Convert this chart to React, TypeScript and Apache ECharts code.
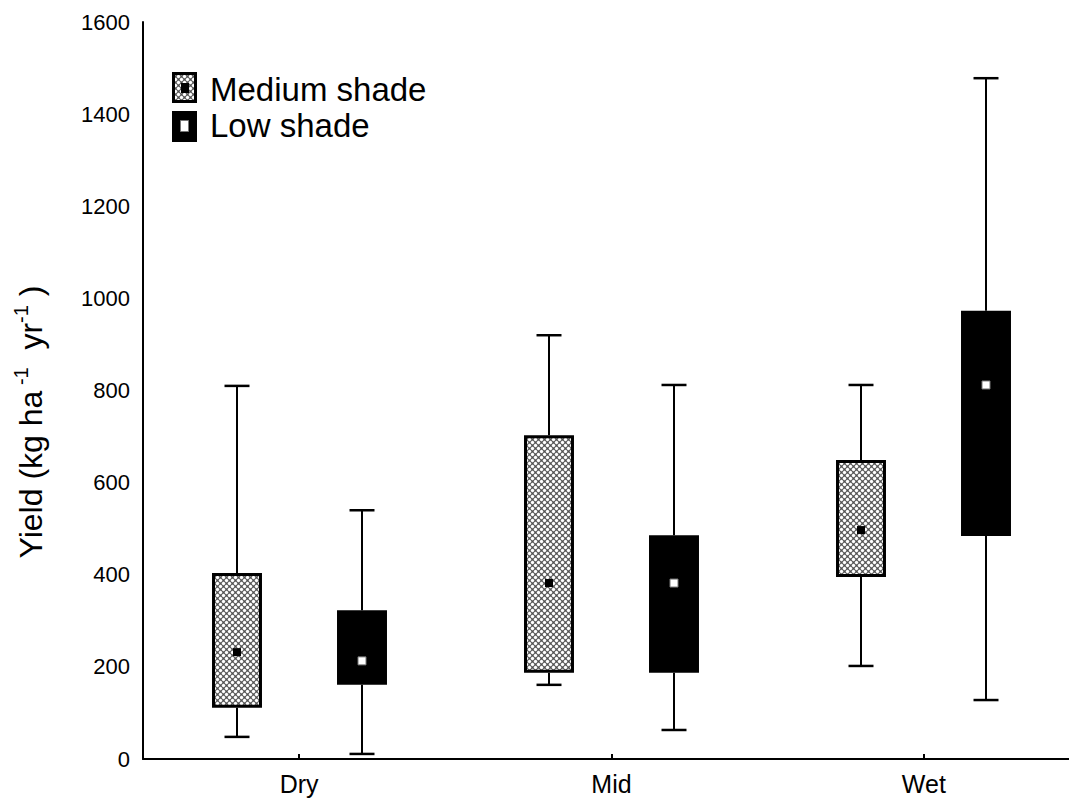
import React, { useEffect, useRef } from "react";
import * as echarts from "echarts";

const categories = ["Dry", "Mid", "Wet"];
// [min, Q1, median, Q3, max]
const mediumShade = [
  [48, 111, 232, 404, 810],
  [161, 187, 382, 703, 920],
  [202, 395, 497, 649, 812],
];
const lowShade = [
  [11, 161, 213, 323, 540],
  [63, 187, 382, 486, 812],
  [128, 484, 812, 973, 1478],
];
const yTicks = { min: 0, max: 1600, interval: 200 };
const legendNames = ["Medium shade", "Low shade"];

const FONT = "'Liberation Sans', Arial, sans-serif";

function makePatternCanvas(): HTMLCanvasElement {
  const n = 6;
  const c = document.createElement("canvas");
  c.width = n;
  c.height = n;
  const ctx = c.getContext("2d")!;
  const img = ctx.createImageData(n, n);
  const centers: number[][] = [];
  for (let i = -1; i <= 2; i++) {
    for (let j = -1; j <= 2; j++) {
      centers.push([1.5 + i * 6, 1.5 + j * 6]);
      centers.push([4.5 + i * 6, 4.5 + j * 6]);
    }
  }
  for (let y = 0; y < n; y++) {
    for (let x = 0; x < n; x++) {
      let d = 99;
      for (const [cx, cy] of centers) {
        const dd = Math.hypot(x + 0.5 - cx, y + 0.5 - cy);
        if (dd < d) d = dd;
      }
      let v = 255 - (d - 1.1) * 140;
      v = Math.max(80, Math.min(255, v));
      const k = (y * n + x) * 4;
      img.data[k] = v;
      img.data[k + 1] = v;
      img.data[k + 2] = v;
      img.data[k + 3] = 255;
    }
  }
  ctx.putImageData(img, 0, 0);
  return c;
}

export default function App() {
  const ref = useRef<HTMLDivElement>(null);
  useEffect(() => {
    document.body.style.margin = "0";
    document.body.style.overflow = "hidden";
    const chart = echarts.init(ref.current!, undefined, { renderer: "svg" });
    const canvas = makePatternCanvas();
    const pattern: any = {
      image: canvas.toDataURL(),
      repeat: "repeat",
      imageWidth: 6,
      imageHeight: 6,
    };

    const makeRender = (offset: number, isMedium: boolean) => (params: any, api: any) => {
      const cat = api.value(0);
      const mn = api.value(1);
      const q1 = api.value(2);
      const med = api.value(3);
      const q3 = api.value(4);
      const mx = api.value(5);
      const band = api.size([1, 0])[0];
      const cx = Math.round(api.coord([cat, 0])[0] + offset * band);
      const y = (v: number) => api.coord([cat, v])[1];
      const bw = 0.16 * band;
      const cw = 0.08 * band;
      const lineStyle = { stroke: "#000", lineWidth: 2 };
      const children: any[] = [
        { type: "line", shape: { x1: cx, y1: y(q3), x2: cx, y2: y(mx) }, style: lineStyle },
        { type: "line", shape: { x1: cx - cw / 2, y1: y(mx), x2: cx + cw / 2, y2: y(mx) }, style: { stroke: "#000", lineWidth: 2.5 } },
        { type: "line", shape: { x1: cx, y1: y(q1), x2: cx, y2: y(mn) }, style: lineStyle },
        { type: "line", shape: { x1: cx - cw / 2, y1: y(mn), x2: cx + cw / 2, y2: y(mn) }, style: { stroke: "#000", lineWidth: 2.5 } },
      ];
      if (isMedium) {
        children.push({
          type: "rect",
          shape: { x: cx - bw / 2 + 1.5, y: y(q3) + 1.5, width: bw - 3, height: y(q1) - y(q3) - 3 },
          style: { fill: pattern, stroke: "#000", lineWidth: 3 },
        });
        children.push({
          type: "rect",
          shape: { x: cx - 4, y: y(med) - 4, width: 8, height: 8 },
          style: { fill: "#000" },
        });
      } else {
        children.push({
          type: "rect",
          shape: { x: cx - bw / 2, y: y(q3), width: bw, height: y(q1) - y(q3) },
          style: { fill: "#000" },
        });
        children.push({
          type: "rect",
          shape: { x: cx - 4, y: y(med) - 4, width: 8, height: 8 },
          style: { fill: "#fff", stroke: "#777", lineWidth: 1 },
        });
      }
      return { type: "group", children };
    };

    const toData = (arr: number[][]) => arr.map((d, i) => [i, ...d]);

    chart.setOption({
      animation: false,
      backgroundColor: "#fff",
      grid: { left: 143, top: 22, bottom: 44, right: 0, containLabel: false, outerBoundsMode: "none" },
      xAxis: {
        type: "category",
        data: categories,
        boundaryGap: true,
        axisLine: { show: true, lineStyle: { color: "#000", width: 2 } },
        axisTick: { show: true, inside: true, alignWithLabel: true, length: 5, lineStyle: { color: "#000", width: 2 } },
        axisLabel: { color: "#000", fontSize: 25, fontFamily: FONT, margin: 12 },
        splitLine: { show: false },
      },
      yAxis: {
        type: "value",
        min: yTicks.min,
        max: yTicks.max,
        interval: yTicks.interval,
        axisLine: { show: true, lineStyle: { color: "#000", width: 2 } },
        axisTick: { show: false },
        axisLabel: { color: "#000", fontSize: 22, fontFamily: FONT, margin: 13, formatter: (v: number) => String(v) },
        splitLine: { show: false },
      },
      series: [
        {
          name: legendNames[0],
          type: "custom",
          renderItem: makeRender(-0.2, true),
          encode: { x: 0, y: [1, 2, 3, 4, 5] },
          data: toData(mediumShade),
        },
        {
          name: legendNames[1],
          type: "custom",
          renderItem: makeRender(0.2, false),
          encode: { x: 0, y: [1, 2, 3, 4, 5] },
          data: toData(lowShade),
        },
      ],
      graphic: [
        {
          type: "group",
          children: [
            { type: "rect", shape: { x: 173.5, y: 73.5, width: 22, height: 28 }, style: { fill: pattern, stroke: "#000", lineWidth: 3 } },
            { type: "rect", shape: { x: 181, y: 83, width: 8, height: 10 }, style: { fill: "#000" } },
            { type: "text", x: 210, y: 89, style: { text: legendNames[0], font: `33px ${FONT}`, fill: "#000", verticalAlign: "middle", align: "left" } },
            { type: "rect", shape: { x: 172, y: 111, width: 25, height: 31 }, style: { fill: "#000" } },
            { type: "rect", shape: { x: 180.5, y: 120.5, width: 8, height: 11 }, style: { fill: "#fff", stroke: "#777", lineWidth: 1 } },
            { type: "text", x: 210, y: 125, style: { text: legendNames[1], font: `33px ${FONT}`, fill: "#000", verticalAlign: "middle", align: "left" } },
          ],
        },
        {
          type: "text",
          x: 31,
          y: 422,
          rotation: Math.PI / 2,
          style: {
            text: "{n|Yield (kg ha}{s| -1}{n|  yr}{s|-1}{n| )}",
            align: "center",
            verticalAlign: "middle",
            fill: "#000",
            rich: {
              n: { fontSize: 32, fontFamily: FONT, lineHeight: 40, fill: "#000" },
              s: { fontSize: 20, fontFamily: FONT, lineHeight: 20, verticalAlign: "top", fill: "#000" },
            },
          },
        },
      ],
    });
    return () => chart.dispose();
  }, []);
  return <div ref={ref} style={{ width: 1080, height: 803 }} />;
}
